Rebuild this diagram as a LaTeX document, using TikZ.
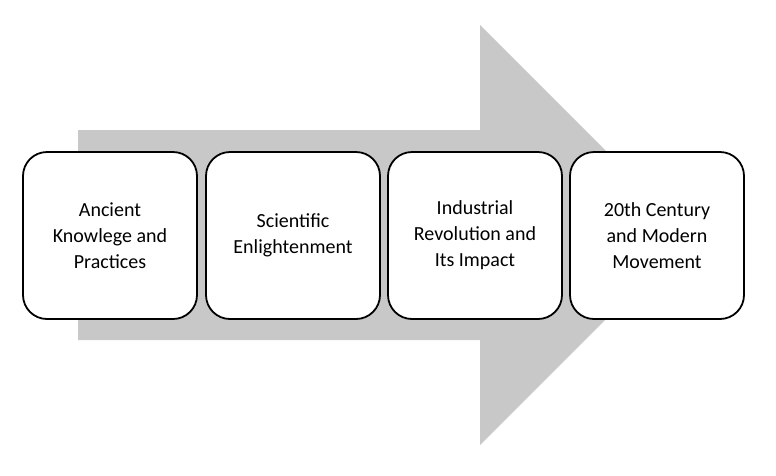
\documentclass[tikz,border=0pt]{standalone}
\usepackage{fontspec}
\setmainfont{Carlito}
\begin{document}
\begin{tikzpicture}[x=1pt,y=-1pt,
  stage/.style={draw=black,line width=1.8pt,fill=white,rounded corners=24pt,minimum width=174pt,minimum height=167pt,align=center,font=\fontsize{20}{26}\selectfont,inner sep=0pt}]
\useasboundingbox (0,0) rectangle (776,475);
\fill[fill={rgb,255:red,200;green,200;blue,200}] (78,130) -- (480,130) -- (480,25) -- (690,235) -- (480,445) -- (480,340) -- (78,340) -- cycle;
\node[stage] (a) at (110,235.5) {Ancient\\Knowlege and\\Practices};
\node[stage] (b) at (293,235.5) {Scientific\\Enlightenment};
\node[stage] (c) at (475,235.5) {Industrial\\Revolution and\\Its Impact};
\node[stage] (d) at (657,235.5) {20th Century\\and Modern\\Movement};
\end{tikzpicture}
\end{document}
